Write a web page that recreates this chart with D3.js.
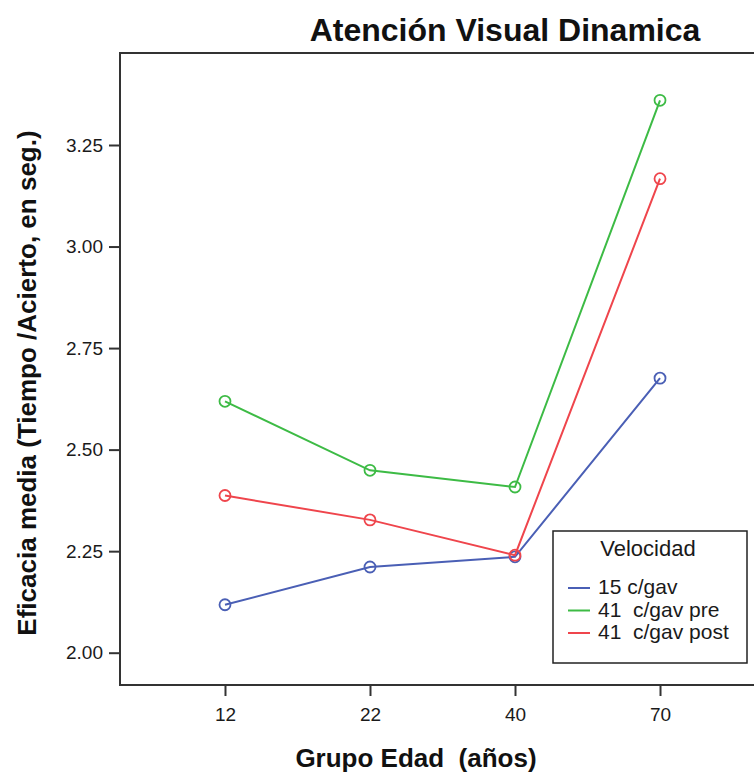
<!DOCTYPE html>
<html>
<head>
<meta charset="utf-8">
<script src="https://cdnjs.cloudflare.com/ajax/libs/d3/7.8.5/d3.min.js"></script>
<style>
    body { margin: 0; background: #fff; }
    svg { font-family: "Liberation Sans", Arial, sans-serif; }
    text { white-space: pre; }
</style>
</head>
<body>
<div id="chart"></div>
<script>
"use strict"

// age groups on the x axis
const ageGroups = ["12", "22", "40", "70"];

// mean efficacy per age group, one array per speed condition
const vel15 = [2.118, 2.211, 2.236, 2.676];
const vel41pre = [2.619, 2.449, 2.408, 3.360];
const vel41post = [2.387, 2.327, 2.240, 3.167];

const seriesNames = ["15 c/gav", "41  c/gav pre", "41  c/gav post"];
const seriesColors = ["#4a5fb5", "#3dbb45", "#ef454c"];

const yTicks = [2.00, 2.25, 2.50, 2.75, 3.00, 3.25];

let ChartView = function (targetID) {

    let self = {
        svg: null,
        width: 754,
        height: 774,
        plot: { left: 120, top: 53, right: 765, bottom: 685 },
        x: null,
        y: null
    };

    init();

    function init() {
        self.svg = d3.select(targetID).append("svg")
            .attr("width", self.width)
            .attr("height", self.height);

        self.x = d3.scalePoint()
            .domain(ageGroups)
            .range([self.plot.left, self.plot.right])
            .padding(0.724);

        // 2.00 sits at y=652.7, 3.25 at y=145
        self.y = d3.scaleLinear()
            .domain([2.0, 3.25])
            .range([652.7, 145]);

        drawFrame();
        drawAxes();
        drawSeries();
        drawLegend();
        drawTitles();
    }

    /* top border and the two axis lines */
    function drawFrame() {
        let p = self.plot;
        self.svg.append("path")
            .attr("d", `M${self.width},${p.top}H${p.left}V${p.bottom}H${self.width}`)
            .style("fill", "none")
            .style("stroke", "#333")
            .style("stroke-width", 2);
    }

    function drawAxes() {
        let yAxis = d3.axisLeft(self.y)
            .tickValues(yTicks)
            .tickFormat(d3.format(".2f"))
            .tickSize(11)
            .tickPadding(6);

        let gy = self.svg.append("g")
            .attr("transform", `translate(${self.plot.left},0)`)
            .call(yAxis);

        let xAxis = d3.axisBottom(self.x)
            .tickSize(11)
            .tickPadding(12);

        let gx = self.svg.append("g")
            .attr("transform", `translate(0,${self.plot.bottom})`)
            .call(xAxis);

        [gx, gy].forEach(g => {
            g.select(".domain").remove();
            g.selectAll(".tick line")
                .style("stroke", "#333")
                .style("stroke-width", 2);
            g.selectAll(".tick text")
                .style("font-size", "19px")
                .style("fill", "#1a1a1a");
        });
    }

    /* one polyline with open circles per condition */
    function drawSeries() {
        let allSeries = [vel15, vel41pre, vel41post];

        let line = d3.line()
            .x((d, i) => self.x(ageGroups[i]))
            .y(d => self.y(d));

        allSeries.forEach((values, s) => {
            self.svg.append("path")
                .datum(values)
                .attr("d", line)
                .style("fill", "none")
                .style("stroke", seriesColors[s])
                .style("stroke-width", 2);

            self.svg.selectAll(".pt" + s)
                .data(values)
                .enter().append("circle")
                .attr("class", "pt" + s)
                .attr("cx", (d, i) => self.x(ageGroups[i]))
                .attr("cy", d => self.y(d))
                .attr("r", 5.5)
                .style("fill", "none")
                .style("stroke", seriesColors[s])
                .style("stroke-width", 1.8);
        });
    }

    function drawLegend() {
        let lg = self.svg.append("g")
            .attr("transform", "translate(553,531)");

        lg.append("rect")
            .attr("width", 194)
            .attr("height", 132)
            .style("fill", "#fff")
            .style("stroke", "#222")
            .style("stroke-width", 1.5);

        lg.append("text")
            .attr("x", 95)
            .attr("y", 25)
            .attr("text-anchor", "middle")
            .style("font-size", "22px")
            .style("fill", "#1a1a1a")
            .text("Velocidad");

        seriesNames.forEach((name, i) => {
            let yy = 57 + i * 22.5;
            lg.append("line")
                .attr("x1", 15)
                .attr("x2", 37)
                .attr("y1", yy)
                .attr("y2", yy)
                .style("stroke", seriesColors[i])
                .style("stroke-width", 2);

            lg.append("text")
                .attr("x", 45)
                .attr("y", yy + 6)
                .style("font-size", "21px")
                .style("fill", "#1a1a1a")
                .text(name);
        });
    }

    function drawTitles() {
        self.svg.append("text")
            .attr("x", 505)
            .attr("y", 41)
            .attr("text-anchor", "middle")
            .style("font-size", "32px")
            .style("font-weight", "bold")
            .style("fill", "#111")
            .text("Atención Visual Dinamica");

        self.svg.append("text")
            .attr("x", 416)
            .attr("y", 767)
            .attr("text-anchor", "middle")
            .style("font-size", "26px")
            .style("font-weight", "bold")
            .style("fill", "#111")
            .text("Grupo Edad  (años)");

        self.svg.append("text")
            .attr("transform", "translate(36,383) rotate(-90)")
            .attr("text-anchor", "middle")
            .style("font-size", "26px")
            .style("font-weight", "bold")
            .style("fill", "#111")
            .text("Eficacia media (Tiempo /Acierto, en seg.)");
    }

    return {};
};

ChartView("#chart");
</script>
</body>
</html>
